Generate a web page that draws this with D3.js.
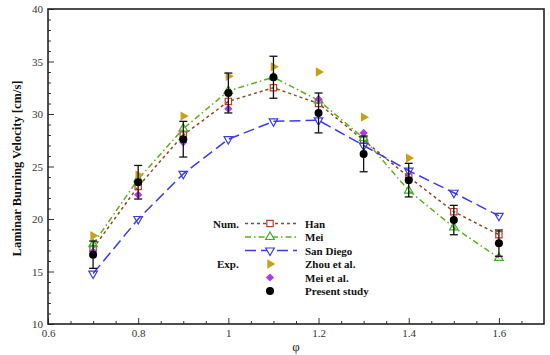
<!DOCTYPE html>
<html>
<head>
<meta charset="utf-8">
<script src="https://cdn.jsdelivr.net/npm/d3@7"></script>
<style>
	body { margin: 0; background: #fff; }
	.axis text { font-family: "Liberation Serif", serif; font-size: 11px; fill: #333; }
	.axis path { display: none; }
	.axis line { stroke: #333; stroke-width: 1; }
	.legend text { font-family: "Liberation Serif", serif; font-size: 11px; font-weight: bold; fill: #111; }
</style>
</head>
<body>
<div id="chart"></div>
<script>
//Data
var phi = [0.7, 0.8, 0.9, 1.0, 1.1, 1.2, 1.3, 1.4, 1.5, 1.6];

//Numerical results
var han = [17.2, 23.1, 28.0, 31.2, 32.5, 31.0, 27.5, 24.0, 20.7, 18.5];
var mei = [17.6, 23.8, 28.6, 32.2, 33.5, 31.3, 27.7, 22.7, 19.2, 16.3];
var sanDiego = [14.8, 20.0, 24.3, 27.6, 29.3, 29.4, 27.0, 24.6, 22.5, 20.3];

//Experiments
var zhouPhi = [0.7, 0.8, 0.9, 1.0, 1.1, 1.2, 1.3, 1.4];
var zhou = [18.4, 24.2, 29.8, 33.6, 34.5, 34.0, 29.7, 25.8];
var meiExpPhi = [0.7, 0.8, 0.9, 1.0, 1.2, 1.3];
var meiExp = [16.9, 22.3, 27.3, 30.5, 31.4, 28.2];
var present = [16.6, 23.5, 27.6, 32.0, 33.5, 30.1, 26.2, 23.7, 19.9, 17.7];
var presentErr = [1.3, 1.6, 1.7, 1.9, 2.0, 1.9, 1.7, 1.6, 1.4, 1.25];

//Axis ticks
var xTicks = [0.6, 0.8, 1.0, 1.2, 1.4, 1.6];
var yTicks = [10, 15, 20, 25, 30, 35, 40];

//Canvas margin, height, and width
var margin = {top: 9, right: 6, bottom: 31, left: 48},
	W = 550 - margin.left - margin.right,
	H = 355 - margin.top - margin.bottom;

var xScale = d3.scaleLinear().domain([0.6, 1.7]).range([0, W]);
var yScale = d3.scaleLinear().domain([10, 40]).range([H, 0]);

var svg = d3.select("#chart")
	.append("svg")
	.attr("width", 550)
	.attr("height", 355)
	.append("g")
		.attr("transform", "translate(" + margin.left + "," + margin.top + ")");

//Axes: ticks point inward, minor ticks every 0.05 / 1
var xMinor = d3.range(0.65, 1.7, 0.05).filter(function(v) { return Math.abs(v * 5 - Math.round(v * 5)) > 1e-6; });
var yMinor = d3.range(11, 40, 1).filter(function(v) { return v % 5 != 0; });

svg.append("g")
	.attr("class", "axis")
	.attr("transform", "translate(0," + H + ")")
	.call(d3.axisBottom(xScale).tickValues(xTicks).tickSize(-6).tickPadding(5)
		.tickFormat(function(d) { return d3.format("")(+d.toFixed(1)); }));

svg.append("g")
	.attr("class", "axis")
	.attr("transform", "translate(0," + H + ")")
	.call(d3.axisBottom(xScale).tickValues(xMinor).tickSize(-3).tickFormat(""));

svg.append("g")
	.attr("class", "axis")
	.call(d3.axisLeft(yScale).tickValues(yTicks).tickSize(-6).tickPadding(5));

svg.append("g")
	.attr("class", "axis")
	.call(d3.axisLeft(yScale).tickValues(yMinor).tickSize(-3).tickFormat(""));

//Frame
svg.append("rect")
	.attr("width", W)
	.attr("height", H)
	.attr("fill", "none")
	.attr("stroke", "#222")
	.attr("stroke-width", 1.6);

//Axis titles
svg.append("text")
	.text("\u03c6")
	.attr("x", W / 2)
	.attr("y", H + 27)
	.attr("text-anchor", "middle")
	.style("font-family", "Liberation Serif, serif")
	.style("font-size", "13px")
	.attr("fill", "#222");

svg.append("text")
	.text("Laminar Burning Velocity [cm/s]")
	.attr("transform", "translate(" + (-27) + "," + (H / 2 + 2) + "), rotate(-90)")
	.attr("text-anchor", "middle")
	.style("font-family", "Liberation Serif, serif")
	.style("font-size", "12.5px")
	.style("font-weight", "bold")
	.attr("fill", "#111");

//Series definitions
var numSeries = [
	{name: "Han", values: han, color: "#8b4a22", mark: "#c0392b", dash: "3,3", symbol: d3.symbolSquare, size: 40, rot: 0},
	{name: "Mei", values: mei, color: "#5fae1e", mark: "#3fae2a", dash: "6,3,1.5,3", symbol: d3.symbolTriangle, size: 32, rot: 0},
	{name: "San Diego", values: sanDiego, color: "#3b3be8", mark: "#3b3be8", dash: "11,5", symbol: d3.symbolTriangle, size: 32, rot: 180}
];

var line = d3.line()
	.x(function(d, i) { return xScale(phi[i]); })
	.y(function(d) { return yScale(d); });

numSeries.forEach(function(s) {
	svg.append("path")
		.datum(s.values)
		.attr("d", line)
		.attr("fill", "none")
		.attr("stroke", s.color)
		.attr("stroke-width", 1.5)
		.attr("stroke-dasharray", s.dash);
});

numSeries.forEach(function(s) {
	svg.selectAll(null)
		.data(s.values)
		.enter()
		.append("path")
			.attr("d", d3.symbol().type(s.symbol).size(s.size))
			.attr("transform", function(d, i) { return "translate(" + xScale(phi[i]) + "," + yScale(d) + ") rotate(" + s.rot + ")"; })
			.attr("fill", "#fff")
			.attr("fill-opacity", 0)
			.attr("stroke", s.mark)
			.attr("stroke-width", 1.2);
});

//Zhou et al.
svg.selectAll(null)
	.data(zhou)
	.enter()
	.append("path")
		.attr("d", d3.symbol().type(d3.symbolTriangle).size(38))
		.attr("transform", function(d, i) { return "translate(" + xScale(zhouPhi[i]) + "," + yScale(d) + ") rotate(90)"; })
		.attr("fill", "#c9a01a");

//Mei et al.
svg.selectAll(null)
	.data(meiExp)
	.enter()
	.append("path")
		.attr("d", d3.symbol().type(d3.symbolSquare).size(34))
		.attr("transform", function(d, i) { return "translate(" + xScale(meiExpPhi[i]) + "," + yScale(d) + ") rotate(45)"; })
		.attr("fill", "#a93ee8");

//Present study with error bars
var errG = svg.selectAll("g.err")
	.data(present)
	.enter()
	.append("g")
		.attr("class", "err")
		.attr("stroke", "#111")
		.attr("stroke-width", 1.3);

errG.append("line")
	.attr("x1", function(d, i) { return xScale(phi[i]); })
	.attr("x2", function(d, i) { return xScale(phi[i]); })
	.attr("y1", function(d, i) { return yScale(d + presentErr[i]); })
	.attr("y2", function(d, i) { return yScale(d - presentErr[i]); });

[1, -1].forEach(function(sgn) {
	errG.append("line")
		.attr("x1", function(d, i) { return xScale(phi[i]) - 4; })
		.attr("x2", function(d, i) { return xScale(phi[i]) + 4; })
		.attr("y1", function(d, i) { return yScale(d + sgn * presentErr[i]); })
		.attr("y2", function(d, i) { return yScale(d + sgn * presentErr[i]); });
});

svg.selectAll("circle.present")
	.data(present)
	.enter()
	.append("circle")
		.attr("class", "present")
		.attr("cx", function(d, i) { return xScale(phi[i]); })
		.attr("cy", function(d) { return yScale(d); })
		.attr("r", 4)
		.attr("fill", "#000");

//Legend
var legend = svg.append("g")
	.attr("class", "legend")
	.attr("transform", "translate(" + (197 - margin.left) + "," + (223.5 - margin.top) + ")");

var rowH = 13.5;
var symX = 73 - 0; //symbol center relative to legend origin
var textX = 108;

legend.append("text").text("Num.").attr("x", 16).attr("y", 4);
legend.append("text").text("Exp.").attr("x", 20).attr("y", 3 * rowH + 4);

numSeries.forEach(function(s, k) {
	var row = legend.append("g").attr("transform", "translate(0," + k * rowH + ")");
	row.append("line")
		.attr("x1", 48).attr("x2", 100)
		.attr("stroke", s.color)
		.attr("stroke-width", 1.5)
		.attr("stroke-dasharray", s.dash);
	row.append("path")
		.attr("d", d3.symbol().type(s.symbol).size(s.size))
		.attr("transform", "translate(" + symX + ",0) rotate(" + s.rot + ")")
		.attr("fill", "#fff")
		.attr("stroke", s.mark)
		.attr("stroke-width", 1.2);
	row.append("text").text(s.name).attr("x", textX).attr("y", 4);
});

var expRows = [
	{name: "Zhou et al.", draw: function(g) { g.append("path").attr("d", d3.symbol().type(d3.symbolTriangle).size(38)).attr("transform", "translate(" + symX + ",0) rotate(90)").attr("fill", "#c9a01a"); }},
	{name: "Mei et al.", draw: function(g) { g.append("path").attr("d", d3.symbol().type(d3.symbolSquare).size(34)).attr("transform", "translate(" + symX + ",0) rotate(45)").attr("fill", "#a93ee8"); }},
	{name: "Present study", draw: function(g) { g.append("circle").attr("cx", symX).attr("r", 4).attr("fill", "#000"); }}
];

expRows.forEach(function(r, k) {
	var row = legend.append("g").attr("transform", "translate(0," + (k + 3) * rowH + ")");
	r.draw(row);
	row.append("text").text(r.name).attr("x", textX).attr("y", 4);
});
</script>
</body>
</html>
